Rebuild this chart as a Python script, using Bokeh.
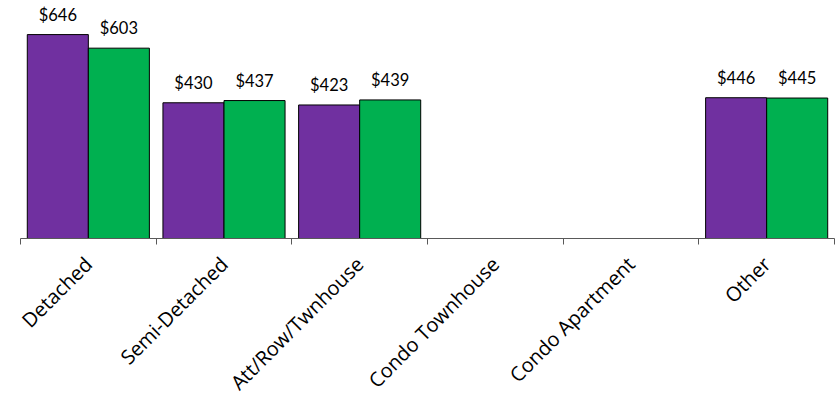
import math
import numpy as np
from bokeh.plotting import figure
from bokeh.models import ColumnDataSource, Range1d, FixedTicker
from bokeh.transform import dodge
from bokeh.core.properties import value
from bokeh.embed import file_html
from bokeh.resources import INLINE

categories = ["Detached", "Semi-Detached", "Att/Row/Twnhouse",
              "Condo Townhouse", "Condo Apartment", "Other"]
series_a = [646, 430, 423, float("nan"), float("nan"), 446]   # purple series
series_b = [603, 437, 439, float("nan"), float("nan"), 445]   # green series

COLOR_A = "#7030A0"
COLOR_B = "#00B050"

n = len(categories)
centers = (np.arange(n) + 0.5).tolist()
bounds = np.arange(n + 1).tolist()

def fmt(v):
    return "" if (v is None or (isinstance(v, float) and math.isnan(v))) else f"${v:.0f}"

src = ColumnDataSource(dict(
    x=centers,
    a=series_a,
    b=series_b,
    la=[fmt(v) for v in series_a],
    lb=[fmt(v) for v in series_b],
))

p = figure(width=837, height=409, output_backend="svg", toolbar_location=None,
           x_range=Range1d(0, n), y_range=Range1d(0, 754),
           y_axis_location=None, min_border_left=20, min_border_right=3,
           min_border_top=0, min_border_bottom=171)
p.outline_line_color = None
p.xgrid.visible = False
p.ygrid.visible = False
p.background_fill_color = "white"

bw = 0.45
p.vbar(x=dodge("x", -bw / 2, range=p.x_range), top="a", width=bw, bottom=0,
       source=src, fill_color=COLOR_A, line_color="black", line_width=1)
p.vbar(x=dodge("x", bw / 2, range=p.x_range), top="b", width=bw, bottom=0,
       source=src, fill_color=COLOR_B, line_color="black", line_width=1)

for col, off in (("la", -bw / 2), ("lb", bw / 2)):
    yc = "a" if col == "la" else "b"
    p.text(x=dodge("x", off, range=p.x_range), y=yc, text=col, source=src,
           text_align="center", text_baseline="alphabetic", y_offset=-20,
           text_font=value("Lato"), text_font_size="16.5px", text_color="black")

ax = p.xaxis[0]
ax.ticker = FixedTicker(ticks=centers, minor_ticks=bounds)
ax.major_label_overrides = {c: lab for c, lab in zip(centers, categories)}
ax.major_tick_line_color = None
ax.minor_tick_line_color = "#595959"
ax.minor_tick_in = 0
ax.minor_tick_out = 6
ax.axis_line_color = "#595959"
ax.axis_line_width = 1
ax.major_label_orientation = math.pi / 4
ax.major_label_text_font = "Open Sans"
ax.major_label_text_font_size = "20px"
ax.major_label_text_line_height = 1.0
ax.major_label_text_color = "black"
ax.major_label_standoff = 16

open("out.html", "w").write(file_html(p, INLINE))
